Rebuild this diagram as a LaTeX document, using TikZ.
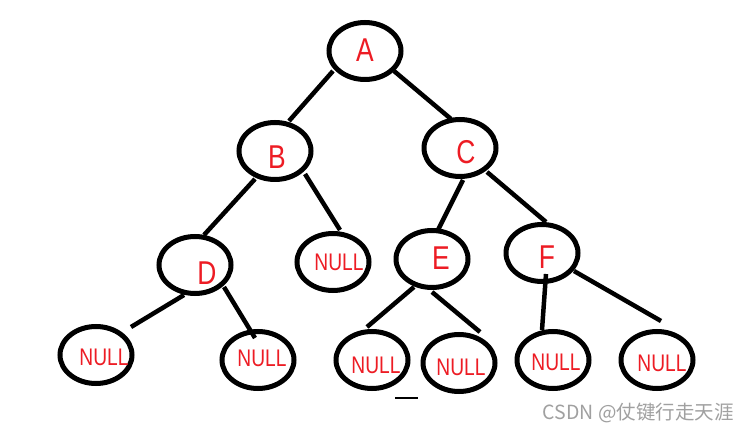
\documentclass[tikz,border=0pt]{standalone}
\usepackage{fontspec}
\newfontfamily\paintfont{Liberation Sans}[FakeStretch=0.8]
\newfontfamily\cjkfont{Noto Sans CJK SC}
\usetikzlibrary{
    shapes.geometric,
    calc,
}
\definecolor{paintred}{RGB}{237,28,36}
\definecolor{markgray}{RGB}{160,160,160}

\begin{document}
\begin{tikzpicture}[
        x=1pt, y=-1pt,
        nd/.style={draw, ellipse, line width=5pt, minimum width=72pt, minimum height=57pt, inner sep=0pt},
        lbl/.style={text=paintred, font=\paintfont\fontsize{33}{33}\selectfont, inner sep=0pt},
        nul/.style={text=paintred, font=\paintfont\fontsize{24}{24}\selectfont, inner sep=0pt},
        link/.style={line width=4.5pt},
    ]
        \fill[white] (0,0) rectangle (749,435);

        \node[nd] (A) at (365,51) {};
        \node[nd] (B) at (275,151) {};
        \node[nd] (C) at (460,148) {};
        \node[nd] (D) at (195,265) {};
        \node[nd] (N0) at (333,262) {};
        \node[nd] (E) at (432,259) {};
        \node[nd] (F) at (542,253) {};
        \node[nd] (L1) at (96,355) {};
        \node[nd] (L2) at (258,360) {};
        \node[nd] (L3) at (372,360) {};
        \node[nd] (L4) at (459,363) {};
        \node[nd] (L5) at (553,360) {};
        \node[nd] (L6) at (657,360) {};

        \node[lbl] (tA) at (365,50) {A};
        \node[lbl] (tB) at (277,157) {B};
        \node[lbl] (tC) at (466,152) {C};
        \node[lbl] (tD) at (207,273) {D};
        \node[lbl] (tE) at (441,258) {E};
        \node[lbl] (tF) at (547,257) {F};
        \node[nul] (tN0) at (339,262) {NULL};
        \node[nul] (tL1) at (104,357) {NULL};
        \node[nul] (tL2) at (262,358) {NULL};
        \node[nul] (tL3) at (376,365) {NULL};
        \node[nul] (tL4) at (461,367) {NULL};
        \node[nul] (tL5) at (556,362) {NULL};
        \node[nul] (tL6) at (662,363) {NULL};

        \draw[link] ($(A)+(-32,20)$) -- ($(B)+(14,-30)$);
        \draw[link] ($(A)+(29,20)$) -- ($(C)+(-9,-29)$);
        \draw[link] ($(B)+(-20,28)$) -- ($(D)+(9,-30)$);
        \draw[link] ($(B)+(30,23)$) -- ($(N0)+(7,-32)$);
        \draw[link] ($(C)+(3,32)$) -- ($(E)+(6,-29)$);
        \draw[link] ($(C)+(27,24)$) -- ($(F)+(4,-31)$);
        \draw[link] ($(D)+(-11,30)$) -- ($(L1)+(35,-28)$);
        \draw[link] ($(D)+(29,22)$) -- ($(L2)+(-3,-22)$);
        \draw[link] ($(E)+(-18,28)$) -- ($(L3)+(-5,-33)$);
        \draw[link] ($(E)+(0,33)$) -- ($(L4)+(21,-31)$);
        \draw[link] ($(F)+(4,21)$) -- ($(L5)+(-11,-30)$);
        \draw[link] ($(F)+(32,18)$) -- ($(L6)+(4,-39)$);

        \draw[line width=2.5pt] (395,398) -- (418,398);

        \node[text=markgray, font=\cjkfont\fontsize{19.5}{19.5}\selectfont, anchor=east, inner sep=0pt] (mark) at (734,413) {CSDN @仗键行走天涯};
    \end{tikzpicture}
\end{document}
